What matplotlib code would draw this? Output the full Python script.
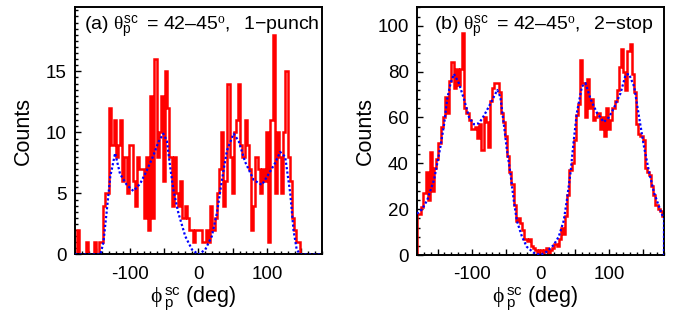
'''
phi distribution of scattered protons, theta 42-45 deg
'''

#############################################
#FRONT END
import numpy as np
import matplotlib
matplotlib.use('Agg')
from matplotlib import pyplot as plt
from matplotlib.ticker import MultipleLocator, FixedLocator, FuncFormatter

root_theme = {'font.family': 'Liberation Sans',
              'mathtext.fontset': 'custom',
              'mathtext.rm': 'Liberation Sans',
              'mathtext.it': 'Liberation Serif',
              'mathtext.bf': 'Liberation Sans:bold',
              'axes.linewidth': 1.4,
              'xtick.labelsize': 13.5,
              'ytick.labelsize': 13.5,
              'axes.labelsize': 15.5}
matplotlib.rcParams.update(root_theme)
#############################################

#############################################
#DATA (counts per bin, bins span -180..180 deg)

#(a) 1-punch
counts_a = [0, 2, 0, 0, 0, 1, 0, 0, 0, 1,
            0, 1, 1, 4, 5, 5, 12, 9, 11, 8,
            9, 11, 6, 8, 5, 9, 9, 6, 4, 8,
            7, 7, 3, 8, 2, 13, 3, 16, 8, 10,
            13, 6, 15, 12, 8, 4, 8, 5, 4, 6,
            3, 4, 3, 2, 2, 1, 2,
            2,
            2, 1, 1, 2, 1, 4, 2, 3, 5, 7,
            10, 4, 6, 14, 8, 5, 10, 11, 14, 9,
            8, 11, 9, 7, 2, 4, 8, 7, 5, 7,
            6, 10, 1, 11, 18, 5, 10, 8, 5, 10,
            15, 8, 6, 3, 2, 1, 1, 0, 0, 0,
            0, 0, 0, 0, 0, 0, 0]

#(b) 2-stop
counts_b = [18, 18, 21, 27, 36, 24, 45, 28, 38, 42,
            49, 56, 60, 69, 62, 76, 84, 73, 81, 74,
            81, 97, 64, 62, 59, 55, 55, 56, 51, 57,
            46, 60, 58, 47, 67, 73, 75, 75, 71, 62,
            58, 52, 43, 36, 31, 22, 15, 16, 14, 11,
            7, 6, 7, 4, 3, 2, 1,
            2,
            1, 2, 3, 1, 2, 3, 5, 4, 7, 12,
            9, 17, 26, 37, 40, 50, 61, 66, 85, 75,
            60, 77, 64, 68, 59, 60, 62, 55, 60, 52,
            64, 55, 59, 64, 67, 72, 82, 90, 80, 72,
            89, 92, 79, 71, 57, 53, 52, 50, 38, 36,
            35, 30, 26, 22, 20, 19, 17]

#simulation curves (blue dotted)
sim_a_phi = [-180, -143, -138.5, -134, -128.5, -121.5, -114.3, -104.5, -94.8, -85,
             -75.2, -65.8, -58.5, -51.2, -46, -41.3, -36.6, -29.3, -19.3, -9.4,
             0, 9.9, 19.5, 26.9, 34.2, 41.4, 51.2, 58.5, 67.9, 80.5,
             92.5, 102.4, 111.8, 119.1, 126.4, 133.8, 138.5, 143.2, 148.4, 180]
sim_a_val = [0, 0, 1, 3.4, 6.4, 8.3, 6.6, 5.7, 5.2, 5.8,
             6.9, 8.1, 9.2, 9.9, 9.3, 7.2, 5.3, 3.4, 1.5, 0.4,
             0, 0.4, 1.5, 3.4, 6.1, 8.5, 9.9, 9.3, 7.6, 6.1,
             5.7, 6.6, 7.5, 8.4, 8, 5, 2, 0.4, 0, 0]

sim_b_phi = [-180, -172.5, -165, -155, -146, -140.5, -136, -131, -126, -119,
             -111.5, -104, -97, -89.5, -82, -73, -63, -58.5, -53, -49,
             -44, -39, -34.5, -27, -20, -10, 0, 9.4, 19.3, 26.6,
             33.9, 38.5, 43.8, 48.5, 53, 60.4, 65.6, 73, 82.3, 92.2,
             99.5, 106.8, 116.7, 124, 129, 136.5, 143.8, 151, 158.4, 165.7,
             173, 178, 180, 180]
sim_b_val = [18, 20, 24, 33, 47, 57, 68, 75, 79, 75,
             68, 60, 57, 57.5, 61, 66, 72, 69, 56, 46,
             36, 24, 15, 8, 3.6, 1, 0, 1.5, 4.4, 8,
             15, 24, 36, 50, 62, 73.5, 75, 68, 62, 58,
             60, 64, 70.6, 78.6, 79, 73.5, 60, 47, 36, 27,
             21, 17, 16, 0]

labels = [r'(a) $\theta_{\rm p}^{\rm sc}\ \mathit{=\,42}$–$\mathit{45^{o},\ \ 1}$−punch',
          r'(b) $\theta_{\rm p}^{\rm sc}\ \mathit{=\,42}$–$\mathit{45^{o},\ \ 2}$−stop']
#############################################

#############################################
#PLOT

def draw_panel(ax, counts, sim_phi, sim_val, ymax, yticks, ymin_step, label, tx):
    edges = np.linspace(-180, 180, len(counts) + 1)
    ax.stairs(counts, edges, color='red', lw=1.8, zorder=2)
    ax.plot(sim_phi, sim_val, color='blue', lw=1.6, ls=(0, (1, 1)), zorder=3)
    ax.set_xlim(-180, 180)
    ax.set_ylim(0, ymax)
    ax.xaxis.set_major_locator(MultipleLocator(50))
    ax.xaxis.set_minor_locator(MultipleLocator(10))
    ax.xaxis.set_major_formatter(FuncFormatter(
        lambda v, p: f'{v:.0f}' if round(v) % 100 == 0 else ''))
    ax.yaxis.set_major_locator(FixedLocator(yticks))
    ax.yaxis.set_minor_locator(MultipleLocator(ymin_step))
    ax.tick_params(which='both', direction='in', top=False, right=False, width=1)
    ax.tick_params(which='major', length=4, pad=6)
    ax.tick_params(axis='x', which='major', pad=8)
    ax.tick_params(which='minor', length=2)
    ax.set_ylabel('Counts')
    ax.set_xlabel(r'$\phi\,{}_{\rm p}^{\rm sc}$ (deg)')
    ax.yaxis.set_label_coords(-0.165, 0.5)
    ax.xaxis.set_label_coords(0.48, -0.12)
    ax.text(tx, 0.975, label, transform=ax.transAxes, ha='left', va='top',
            fontsize=14)


fig = plt.figure(figsize=(6.73, 3.2), dpi=100)
ax_a = fig.add_axes([0.1114, 0.2047, 0.367, 0.773])
ax_b = fig.add_axes([0.6196, 0.2031, 0.367, 0.775])

draw_panel(ax_a, counts_a, sim_a_phi, sim_a_val, 20.26, [0, 5, 10, 15], 0.5,
           labels[0], 0.035)
draw_panel(ax_b, counts_b, sim_b_phi, sim_b_val, 108.2, [0, 20, 40, 60, 80, 100], 4,
           labels[1], 0.07)

plt.savefig('out.png', dpi=100)
#############################################
